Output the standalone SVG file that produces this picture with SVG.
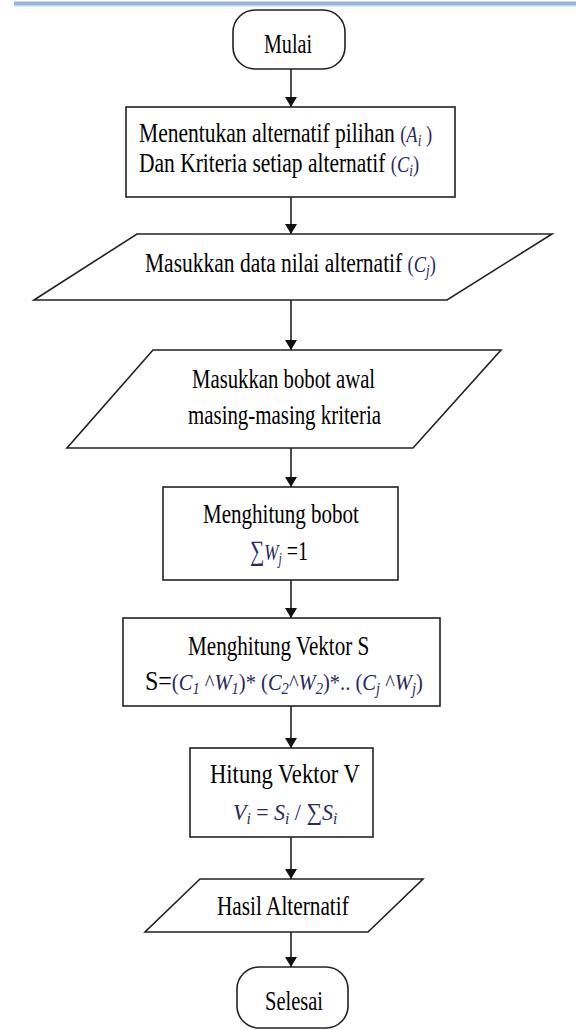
<svg xmlns="http://www.w3.org/2000/svg" width="576" height="1030" viewBox="0 0 576 1030">
<style>
.shape{fill:#fff;stroke:#222;stroke-width:1.6}
.t{font-family:"Liberation Serif","Times New Roman",serif;font-size:28px;fill:#000}
.m{font-size:24px;fill:#2a2a5c}
.mi{font-style:italic;font-size:24px;fill:#2a2a5c}
.sub{font-size:17px;font-style:italic;fill:#2a2a5c}
.conn{stroke:#111;stroke-width:1.5;fill:none}
</style>
<defs>
<marker id="arr" viewBox="0 0 10 12" refX="10" refY="6" markerWidth="10" markerHeight="12" markerUnits="userSpaceOnUse" orient="auto">
<path d="M0,0 L10,6 L0,12 Z" fill="#111"/>
</marker>
</defs>
<rect x="14" y="1.5" width="562" height="3.5" fill="#95B3DD"/>
<rect x="14" y="5" width="562" height="1.5" fill="#C6D6EE"/>

<g id="connectors">
<line class="conn" x1="291" y1="69" x2="291" y2="107" marker-end="url(#arr)"/>
<line class="conn" x1="291" y1="197" x2="291" y2="234" marker-end="url(#arr)"/>
<line class="conn" x1="291" y1="300" x2="291" y2="350" marker-end="url(#arr)"/>
<line class="conn" x1="291" y1="448" x2="291" y2="487" marker-end="url(#arr)"/>
<line class="conn" x1="291" y1="580" x2="291" y2="618" marker-end="url(#arr)"/>
<line class="conn" x1="291" y1="706" x2="291" y2="748" marker-end="url(#arr)"/>
<line class="conn" x1="291" y1="837" x2="291" y2="879" marker-end="url(#arr)"/>
<line class="conn" x1="291" y1="932" x2="291" y2="967" marker-end="url(#arr)"/>
</g>

<g id="mulai">
<rect class="shape" x="233" y="10" width="112" height="59" rx="22" ry="22"/>
<text class="t" transform="translate(264,53) scale(0.718,1)">Mulai</text>
</g>

<g id="menentukan">
<rect class="shape" x="126" y="107" width="329" height="90"/>
<text class="t" transform="translate(139,142) scale(0.769,1)">Menentukan alternatif pilihan <tspan class="m">(</tspan><tspan class="mi">A</tspan><tspan class="sub" dy="4">i</tspan><tspan class="m" dy="-4"> )</tspan></text>
<text class="t" transform="translate(139,172) scale(0.768,1)">Dan Kriteria setiap alternatif <tspan class="m">(</tspan><tspan class="mi">C</tspan><tspan class="sub" dy="4">i</tspan><tspan class="m" dy="-4">)</tspan></text>
</g>

<g id="input-data">
<polygon class="shape" points="137,234 552,234 447,300 34,300"/>
<text class="t" transform="translate(145,272) scale(0.768,1)">Masukkan data nilai alternatif <tspan class="m">(</tspan><tspan class="mi">C</tspan><tspan class="sub" dy="4">j</tspan><tspan class="m" dy="-4">)</tspan></text>
</g>

<g id="input-bobot">
<polygon class="shape" points="153,350 501,350 413,448 67,448"/>
<text class="t" transform="translate(192,388) scale(0.741,1)">Masukkan bobot awal</text>
<text class="t" transform="translate(188,424) scale(0.746,1)">masing-masing kriteria</text>
</g>

<g id="hitung-bobot">
<rect class="shape" x="163" y="487" width="235" height="93"/>
<text class="t" transform="translate(203,523) scale(0.751,1)">Menghitung bobot</text>
<text class="t" transform="translate(250,560) scale(0.713,1)"><tspan class="m" style="font-size:28px">∑</tspan><tspan class="mi">W</tspan><tspan class="sub" dy="4">j</tspan><tspan dy="-4"> =1</tspan></text>
</g>

<g id="vektor-s">
<rect class="shape" x="123" y="618" width="317" height="88"/>
<text class="t" transform="translate(188,655) scale(0.754,1)">Menghitung Vektor S</text>
<text class="t" transform="translate(145,690) scale(0.856,1)">S=<tspan class="m">(</tspan><tspan class="mi">C</tspan><tspan class="sub" dy="4">1</tspan><tspan class="m" dy="-4"> ^</tspan><tspan class="mi">W</tspan><tspan class="sub" dy="4">1</tspan><tspan class="m" dy="-4">)* (</tspan><tspan class="mi">C</tspan><tspan class="sub" dy="4">2</tspan><tspan class="m" dy="-4">^</tspan><tspan class="mi">W</tspan><tspan class="sub" dy="4">2</tspan><tspan class="m" dy="-4">)*.. (</tspan><tspan class="mi">C</tspan><tspan class="sub" dy="4">j</tspan><tspan class="m" dy="-4"> ^</tspan><tspan class="mi">W</tspan><tspan class="sub" dy="4">j</tspan><tspan class="m" dy="-4">)</tspan></text>
</g>

<g id="vektor-v">
<rect class="shape" x="190" y="748" width="183" height="89"/>
<text class="t" transform="translate(210,783) scale(0.808,1)">Hitung Vektor V</text>
<text class="t" transform="translate(233,820) scale(0.914,1)"><tspan class="mi">V</tspan><tspan class="sub" dy="4">i</tspan><tspan class="m" dy="-4"> = </tspan><tspan class="mi">S</tspan><tspan class="sub" dy="4">i</tspan><tspan class="m" dy="-4"> / ∑</tspan><tspan class="mi">S</tspan><tspan class="sub" dy="4">i</tspan></text>
</g>

<g id="hasil">
<polygon class="shape" points="200,879 423,879 368,932 145,932"/>
<text class="t" transform="translate(217,915) scale(0.760,1)">Hasil Alternatif</text>
</g>

<g id="selesai">
<rect class="shape" x="237" y="967" width="111" height="61" rx="22" ry="22"/>
<text class="t" transform="translate(265,1010) scale(0.731,1)">Selesai</text>
</g>
</svg>
